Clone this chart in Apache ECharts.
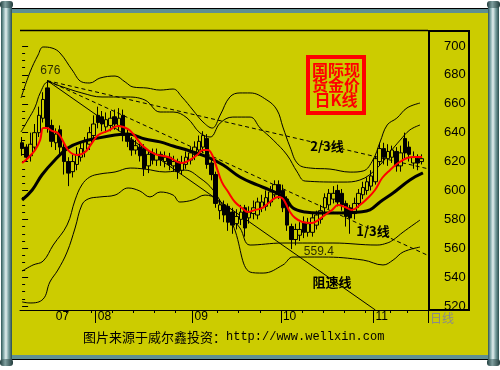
<!DOCTYPE html>
<html>
<head>
<meta charset="utf-8">
<script src="https://cdn.jsdelivr.net/npm/echarts@6/dist/echarts.min.js"></script>
<style>
html,body{margin:0;padding:0;background:#fff;}
#c{width:500px;height:370px;}
</style>
</head>
<body>
<div id="c"></div>
<script>
// Daily gold candles (open / close / low / high), one entry per trading day
const opens  = [633,630,624,630,640,650,671,645,633,642,630,620,613,618,623,627,632,638,652,651,
                644,645,651,645,652,639,635,628,630,629,617,626,621,625,620,623,617,620,614,618,
                621,625,628,630,636,619,611,586,590,589,585,577,580,588,581,584,583,588,589,592,
                597,604,600,594,575,566,569,578,571,571,576,580,588,590,594,600,598,591,588,584,
                591,597,600,603,606,620,629,622,623,627,617,636,630,619,622,620];
const closes = [629,623,632,640,652,663,644,634,639,630,620,612,620,625,629,634,640,646,647,646,
                649,650,646,650,638,634,628,631,624,615,625,621,625,621,623,618,620,613,619,623,
                626,630,634,638,618,611,591,590,583,578,576,582,585,574,585,588,592,592,595,599,
                604,598,588,576,566,573,573,571,577,581,583,586,595,598,598,592,590,582,581,591,
                598,602,606,610,622,629,623,627,628,617,626,626,625,623,619,622];
const lows   = [624,620,620,627,637,647,640,630,628,624,611,603,609,614,620,623,628,634,643,641,
                640,641,642,641,634,630,624,625,620,610,612,618,617,617,616,614,613,608,611,615,
                618,621,624,626,615,607,588,580,578,572,570,573,576,568,577,580,580,585,586,589,
                594,594,585,572,559.4,562,565,567,568,568,573,577,585,587,591,589,586,575,570,580,
                588,594,597,600,604,617,618,617,619,613,613,622,620,615,614,618];
const highs  = [637,632,640,646,658,668,676,649,643,645,633,623,625,630,634,637,644,652,658,655,
                654,655,656,657,656,642,637,635,633,632,628,629,629,627,627,626,624,622,624,627,
                630,634,638,641,639,621,613,594,593,591,588,587,590,590,589,593,595,597,600,603,
                607,607,604,596,577,577,578,582,581,584,586,590,598,601,603,604,601,593,590,595,
                601,606,609,614,624,633,633,632,631,630,631,640,634,627,625,625];

const dayCount = 97;                       // trading-day slots on the time axis
const monthLabels   = ['07','08','09','10','11'];
const monthLabelIdx = [8, 18, 41, 62, 84];
const monthTickIdx  = [18, 41, 62, 84];
const weekTickIdx   = [11,17,22,27,32,37,47,52,57,67,72,77,82,88,92];
const priceMin = 520, priceMax = 700, priceStep = 20;

// Moving averages, [day, price]
const ma5 = [[0,619.0],[1.4,622.5],[3.1,628.0],[4.3,635.0],[5.0,643.3],[5.9,643.3],[7.1,641.2],[8.5,639.8],
  [9.7,634.3],[10.9,628.0],[12.1,625.2],[13.3,624.5],[15.0,626.6],[16.6,632.8],[18.1,638.4],[20.4,641.2],
  [22.8,644.6],[25.2,642.5],[26.4,639.1],[28.7,630.8],[31.6,625.2],[34.7,623.2],[38.0,619.0],[39.9,621.1],
  [41.6,624.5],[43.0,628.0],[44.2,628.0],[45.2,624.5],[46.3,615.5],[47.5,605.8],[49.0,598.9],[50.6,592.0],
  [52.3,587.8],[53.7,585.1],[55.4,586.5],[57.0,587.8],[58.9,592.0],[60.8,595.5],[61.8,594.8],[62.5,592.0],
  [63.7,585.1],[64.9,581.0],[66.6,578.2],[68.9,577.5],[70.4,579.5],[72.0,583.0],[73.7,586.5],[75.1,589.9],
  [76.8,588.5],[78.4,586.5],[80.3,589.9],[82.2,594.8],[83.9,600.3],[85.6,608.6],[87.5,614.2],[89.4,619.0],
  [91.5,622.5],[93.2,623.2],[95.1,623.2]];
const ma20 = [[0,593.4],[2.4,600.3],[4.7,610.7],[7.8,621.1],[10.9,629.4],[14.2,633.6],[18.1,636.3],[22.1,638.4],
  [25.2,639.1],[29.2,635.6],[32.8,633.6],[35.9,630.8],[39.9,627.3],[44.0,623.2],[47.8,617.6],[51.8,609.3],
  [55.9,603.8],[58.9,600.3],[62.5,594.8],[64.4,587.8],[67.3,585.1],[70.8,584.4],[75.6,584.4],[80.3,585.1],
  [82.7,586.5],[85.1,592.0],[88.2,598.2],[92.2,607.2],[95.3,612.1]];

// Envelope bands, [day, price]
const bandUpperOuter = [[-0.26,664.0],[1.9,682.0],[3.8,693.8],[5.0,699.3],[7.1,698.6],[9.0,695.2],[11.9,683.4],
  [14.2,675.1],[16.1,674.4],[18.5,677.8],[22.1,679.2],[24.5,675.1],[26.4,671.6],[29.7,670.9],[32.8,669.5],
  [35.9,670.2],[38.0,664.7],[40.6,655.7],[43.0,647.4],[45.2,643.2],[47.1,652.2],[49.4,664.7],[51.8,667.5],
  [54.2,667.5],[58.2,662.6],[60.6,655.7],[62.0,643.9],[63.7,630.1],[65.6,618.3],[68.5,615.5],[73.2,614.8],
  [78.0,612.7],[81.1,613.5],[83.4,621.1],[85.1,633.5],[86.8,645.3],[89.1,650.1],[91.5,657.1],[94.6,660.5]];
const bandUpperInner = [[-0.26,640.5],[1.4,648.8],[3.1,657.8],[4.3,667.5],[6.2,675.1],[9.0,672.3],[14.2,667.5],
  [19.0,664.7],[24.5,664.7],[29.2,662.6],[32.8,654.3],[35.9,654.3],[39.2,650.2],[42.3,639.8],[44.7,637.0],
  [47.1,646.7],[50.1,650.8],[54.2,650.8],[56.6,643.2],[59.7,634.9],[63.0,624.5],[65.4,612.8],[67.3,606.5],
  [76.3,605.8],[80.3,607.2],[84.4,615.5],[87.5,626.6],[89.9,634.9],[92.2,641.9],[94.6,645.3]];
const bandLowerInner = [[0,544.2],[2.6,548.4],[5.0,551.1],[7.4,562.2],[10.7,576.1],[12.6,593.4],[14.2,603.8],
  [16.1,609.3],[18.5,611.4],[22.1,612.8],[25.7,615.5],[29.2,614.8],[34.0,612.8],[38.7,614.1],[42.3,608.6],
  [45.4,600.3],[48.7,585.1],[51.8,574.0],[54.2,562.2],[62.0,563.6],[73.9,563.6],[84.4,562.2],[86.8,563.6],
  [88.2,565.7],[90.6,571.2],[94.6,579.5]];
const bandLowerOuter = [[0,522.8],[1.9,522.1],[5.0,524.8],[6.6,536.6],[8.5,544.9],[10.7,557.4],[12.6,574.0],
  [14.2,589.9],[15.7,594.1],[18.5,595.5],[22.1,596.8],[25.2,601.7],[28.0,599.6],[30.4,595.5],[32.8,598.9],
  [35.9,596.8],[37.5,592.0],[40.6,593.4],[43.5,596.8],[46.3,593.4],[50.1,576.1],[54.2,543.5],[57.3,542.8],
  [62.0,548.4],[64.4,553.9],[71.5,553.9],[81.1,551.8],[85.8,548.4],[88.2,551.8],[90.6,557.4],[94.6,560.8]];

// Speed-resistance fan from the 676 top
const peakIdx = 6, lowIdx = 64;
const fanTop = [peakIdx, highs[peakIdx]];
const lineTwoThirdsEnd = [96.5, 615];
const lineOneThirdEnd  = [96.5, 555];
const lineResistEnd    = [84, 517.2];

const dayCats = Array.from({length: dayCount}, (_, i) => 'D' + (i + 1));
const candles = opens.map((o, i) => [o, closes[i], lows[i], highs[i]]);

const CJK = '"Noto Sans CJK SC", sans-serif';
const LAT = '"Liberation Sans", Arial, sans-serif';

const rollerFill = {type:'linear', x:0, y:0, x2:1, y2:0, colorStops:[
  {offset:0, color:'#2c5454'}, {offset:0.25, color:'#8db2b2'}, {offset:0.45, color:'#e2eeee'},
  {offset:0.7, color:'#79a0a0'}, {offset:1, color:'#294d4d'}]};
const capFill = {type:'linear', x:0, y:0, x2:1, y2:0, colorStops:[
  {offset:0, color:'#1f3d3d'}, {offset:0.4, color:'#7f9f9f'}, {offset:1, color:'#1f3a3a'}]};

function thin(data) {
  return {type:'line', xAxisIndex:1, yAxisIndex:0, data, smooth:0.4, symbol:'none', clip:false,
    silent:true, lineStyle:{color:'#000', width:1}, z:3};
}
function straight(data, dashed) {
  return {type:'line', xAxisIndex:1, yAxisIndex:0, data, symbol:'none', clip:false, silent:true,
    lineStyle:{color:'#000', width:1, type: dashed ? [4,3] : 'solid'}, z:3};
}

const option = {
  animation: false,
  backgroundColor: '#ffffff',
  textStyle: {fontFamily: LAT},
  grid: {left: 20, right: 72, top: 46, bottom: 64, containLabel: false},
  xAxis: [
    {type:'category', data: dayCats, boundaryGap: true, position:'bottom', offset: 4,
     axisLine:{show:true, lineStyle:{color:'#000', width:1}},
     axisTick:{show:true, length:3, interval:(i) => weekTickIdx.includes(i), lineStyle:{color:'#000'}},
     axisLabel:{show:false}, splitLine:{show:false}},
    {type:'value', min:-0.5, max:dayCount - 0.5, show:false},
    {type:'category', data: dayCats, boundaryGap: true, position:'bottom', offset: 4,
     axisLine:{show:false},
     axisTick:{show:true, length:13, interval:(i) => monthTickIdx.includes(i), lineStyle:{color:'#000'}},
     axisLabel:{show:true, interval:(i) => monthLabelIdx.includes(i), margin:1, align:'left',
       color:'#000', fontSize:12, fontFamily:LAT,
       formatter:(v, i) => { const k = monthLabelIdx.indexOf(i); return k >= 0 ? monthLabels[k] : ''; }},
     splitLine:{show:false}}
  ],
  yAxis: [{
    type:'value', position:'right', min: priceMin, max: priceMax, interval: priceStep, scale:false,
    axisLine:{show:false},
    axisTick:{show:true, length:6, lineStyle:{color:'#000', width:1}},
    minorTick:{show:true, splitNumber:4, length:3, lineStyle:{color:'#000', width:1}},
    axisLabel:{margin:16, color:'#000', fontSize:13, fontFamily:LAT},
    splitLine:{show:false}, minorSplitLine:{show:false}
  }],
  series: [
    thin(bandUpperOuter), thin(bandUpperInner), thin(bandLowerInner), thin(bandLowerOuter),
    straight([fanTop, lineTwoThirdsEnd], true),
    straight([fanTop, lineOneThirdEnd], true),
    straight([fanTop, lineResistEnd], false),
    {type:'candlestick', xAxisIndex:0, yAxisIndex:0, data: candles, barWidth: 4, silent:true, z:5,
     itemStyle:{color:'#cccc00', color0:'#000', borderColor:'#000', borderColor0:'#000', borderWidth:1}},
    {type:'line', xAxisIndex:1, yAxisIndex:0, data: ma20, smooth:0.4, symbol:'none', clip:false, silent:true,
     lineStyle:{color:'#000', width:3}, z:6},
    {type:'line', xAxisIndex:1, yAxisIndex:0, data: ma5, smooth:0.4, symbol:'none', clip:false, silent:true,
     lineStyle:{color:'#ff0000', width:2}, z:7},
    {type:'scatter', xAxisIndex:1, yAxisIndex:0, symbolSize:1, silent:true, clip:false, z:8,
     itemStyle:{color:'rgba(0,0,0,0)'},
     label:{show:true, color:'#000', fontSize:12, fontFamily:LAT, formatter:(p) => String(p.value[1])},
     data:[
       {value:[peakIdx, highs[peakIdx]], label:{position:'top', distance:3, offset:[3,0]}},
       {value:[lowIdx, lows[lowIdx]], label:{position:'right', distance:12, offset:[0,3]}}
     ]}
  ],
  graphic: [
    // scroll frame
    {type:'rect', z:-20, shape:{x:12, y:8, width:476, height:1}, style:{fill:'#000'}},
    {type:'rect', z:-20, shape:{x:12, y:9, width:476, height:4}, style:{fill:'#5e8f92'}},
    {type:'rect', z:-20, shape:{x:12, y:13, width:476, height:342}, style:{fill:'#cccc00'}},
    {type:'rect', z:-20, shape:{x:12, y:355, width:476, height:4}, style:{fill:'#5e8f92'}},
    {type:'rect', z:-20, shape:{x:12, y:359, width:476, height:1}, style:{fill:'#000'}},
    {type:'rect', z:-19, shape:{x:1, y:4, width:11, height:357}, style:{fill:rollerFill}},
    {type:'rect', z:-18, shape:{x:0, y:1, width:13, height:7, r:3}, style:{fill:capFill}},
    {type:'rect', z:-18, shape:{x:0, y:359, width:13, height:7, r:3}, style:{fill:capFill}},
    {type:'rect', z:-19, shape:{x:488, y:4, width:11, height:357}, style:{fill:rollerFill}},
    {type:'rect', z:-18, shape:{x:487, y:1, width:13, height:7, r:3}, style:{fill:capFill}},
    {type:'rect', z:-18, shape:{x:487, y:359, width:13, height:7, r:3}, style:{fill:capFill}},
    // plot top rule and price box
    {type:'line', z:50, shape:{x1:20, y1:30.5, x2:428, y2:30.5}, style:{stroke:'#000', lineWidth:1.5}},
    {type:'rect', z:50, shape:{x:429, y:31, width:40, height:279}, style:{fill:'none', stroke:'#000', lineWidth:2}},
    {type:'line', z:50, shape:{x1:428.5, y1:310, x2:428.5, y2:323}, style:{stroke:'#000', lineWidth:1}},
    {type:'text', z:50, style:{text:'日线', x:430, y:318, fill:'#8a8a8a', font:'12px ' + CJK, textVerticalAlign:'middle'}},
    // title stamp
    {type:'rect', z:50, shape:{x:308, y:57, width:56, height:56}, style:{fill:'none', stroke:'#ff0000', lineWidth:4}},
    {type:'text', z:50, style:{text:'国际现', x:336, y:69.5, fill:'#ff0000', font:'bold 16px ' + CJK, textAlign:'center', textVerticalAlign:'middle'}},
    {type:'text', z:50, style:{text:'货金价', x:336, y:84.5, fill:'#ff0000', font:'bold 16px ' + CJK, textAlign:'center', textVerticalAlign:'middle'}},
    {type:'text', z:50, style:{text:'日K线', x:336, y:99.5, fill:'#ff0000', font:'bold 16px ' + CJK, textAlign:'center', textVerticalAlign:'middle'}},
    // fan line names
    {type:'text', z:50, style:{text:'2/3线', x:327, y:146, fill:'#000', font:'bold 13px ' + CJK, textAlign:'center', textVerticalAlign:'middle'}},
    {type:'text', z:50, style:{text:'1/3线', x:373, y:231, fill:'#000', font:'bold 13px ' + CJK, textAlign:'center', textVerticalAlign:'middle'}},
    {type:'text', z:50, style:{text:'阻速线', x:332, y:282, fill:'#000', font:'bold 13px ' + CJK, textAlign:'center', textVerticalAlign:'middle'}},
    // source line
    {type:'text', z:50, style:{
      text:'{a|图片来源于威尔鑫投资：}{b|http://www.wellxin.com}', x:83, y:337, textVerticalAlign:'middle',
      rich:{a:{fontFamily:CJK, fontSize:13, fill:'#000', color:'#000'},
            b:{fontFamily:'"Liberation Mono", "DejaVu Sans Mono", monospace', fontSize:12, fill:'#000', color:'#000'}}}}
  ]
};

const chart = echarts.init(document.getElementById('c'), null, {renderer:'canvas'});
chart.setOption(option);
</script>
</body>
</html>
